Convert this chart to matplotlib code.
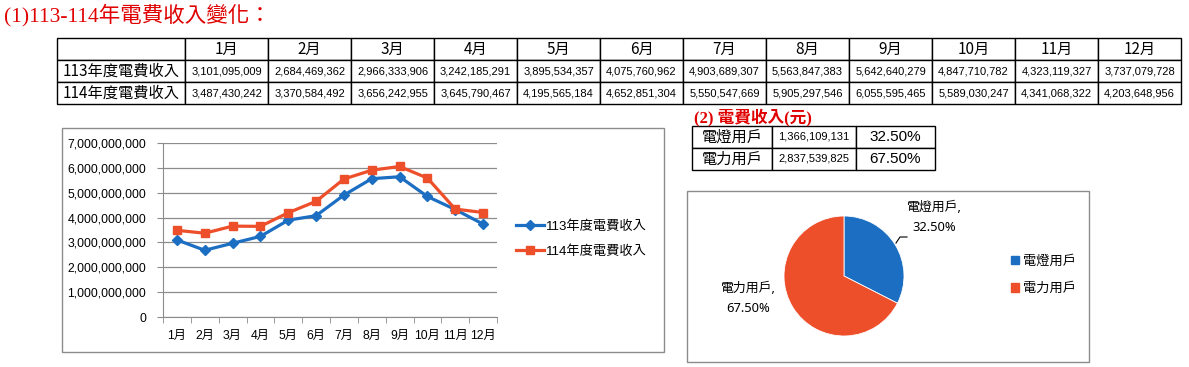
import matplotlib.pyplot as plt
from matplotlib.patches import Rectangle, Patch
from matplotlib.lines import Line2D
from matplotlib.ticker import FuncFormatter, MultipleLocator

months = ["1月", "2月", "3月", "4月", "5月", "6月",
          "7月", "8月", "9月", "10月", "11月", "12月"]
rev_113 = [3101095009, 2684469362, 2966333906, 3242185291, 3895534357, 4075760962,
           4903689307, 5563847383, 5642640279, 4847710782, 4323119327, 3737079728]
rev_114 = [3487430242, 3370584492, 3656242955, 3645790467, 4195565184, 4652851304,
           5550547669, 5905297546, 6055595465, 5589030247, 4341068322, 4203648956]
series_names = ["113年度電費收入", "114年度電費收入"]

user_types = ["電燈用戶", "電力用戶"]
user_revenue = [1366109131, 2837539825]
user_share = [32.50, 67.50]

BLUE = "#1B6EC2"
ORANGE = "#EE4F2B"
RED = "#E00000"
CJK = "Noto Sans CJK TC"

W, H = 1189, 367


def fx(px):
    return px / W


def fy(py):
    return 1 - py / H


plt.rcParams["font.family"] = ["Liberation Sans", CJK]

fig = plt.figure(figsize=(W / 100, H / 100), dpi=100)

# titles
fig.text(fx(4), fy(15), "(1)113-114年電費收入變化：", color=RED, fontsize=15.5,
         family=["Liberation Serif", CJK], va="center", ha="left")
fig.text(fx(694), fy(117), "(2) 電費收入(元)", color=RED, fontsize=12,
         fontweight="bold", family=["Liberation Serif", CJK], va="center", ha="left")

# ---- top table ----
tab_ax = fig.add_axes([fx(57), fy(104), fx(1181) - fx(57), fy(38) - fy(104)])
tab_ax.axis("off")
rows = [[""] + months,
        [series_names[0]] + [f"{v:,}" for v in rev_113],
        [series_names[1]] + [f"{v:,}" for v in rev_114]]
widths = [128] + [83] * 12
tot = sum(widths)
tbl = tab_ax.table(cellText=rows, bbox=[0, 0, 1, 1], cellLoc="center",
                   colWidths=[w / tot for w in widths])
tbl.auto_set_font_size(False)
for (r, c), cell in tbl.get_celld().items():
    cell.set_linewidth(1.0)
    cell.set_edgecolor("black")
    if r == 0:
        cell.get_text().set_fontsize(11)
        cell.get_text().set_family(CJK)
    elif c == 0:
        cell._loc = "left"
        cell.PAD = 0.005
        cell.get_text().set_fontsize(11)
        cell.get_text().set_family(CJK)
    else:
        cell.get_text().set_fontsize(8)

# ---- small table ----
st_ax = fig.add_axes([fx(692), fy(170), fx(935) - fx(692), fy(126) - fy(170)])
st_ax.axis("off")
srows = [[user_types[i], f"{user_revenue[i]:,}", f"{user_share[i]:.2f}%"] for i in range(2)]
sw = [80, 84, 79]
stbl = st_ax.table(cellText=srows, bbox=[0, 0, 1, 1], cellLoc="center",
                   colWidths=[w / sum(sw) for w in sw])
stbl.auto_set_font_size(False)
for (r, c), cell in stbl.get_celld().items():
    cell.set_linewidth(1.0)
    cell.set_edgecolor("black")
    t = cell.get_text()
    if c == 0:
        cell._loc = "left"
        cell.PAD = 0.02
        t.set_fontsize(11)
        t.set_family(CJK)
    elif c == 1:
        t.set_fontsize(8)
    else:
        cell._loc = "right"
        cell.PAD = 0.03
        t.set_fontsize(11)

# ---- line chart ----
fig.add_artist(Rectangle((fx(62), fy(352)), fx(664) - fx(62), fy(128) - fy(352),
                         transform=fig.transFigure, fill=False, edgecolor="#8c8c8c", lw=1))
ax = fig.add_axes([fx(163), fy(317), fx(497) - fx(163), fy(143) - fy(317)])
x = list(range(len(months)))
ax.plot(x, rev_113, color=BLUE, lw=2.3, marker="D", markersize=5.5, label=series_names[0])
ax.plot(x, rev_114, color=ORANGE, lw=2.3, marker="s", markersize=6, label=series_names[1])
ax.set_xlim(-0.5, len(months) - 0.5)
ax.set_ylim(0, 7e9)
ax.yaxis.set_major_locator(MultipleLocator(1e9))
ax.yaxis.set_major_formatter(FuncFormatter(lambda v, p: f"{v:,.0f}"))
ax.grid(axis="y", color="#8c8c8c", lw=0.9)
ax.set_axisbelow(True)
for s in ["top", "right"]:
    ax.spines[s].set_visible(False)
for s in ["left", "bottom"]:
    ax.spines[s].set_color("#8c8c8c")
ax.set_xticks(x)
ax.set_xticklabels(months)
ax.set_xticks([i - 0.5 for i in range(len(months) + 1)], minor=True)
ax.tick_params(axis="x", which="major", length=0, labelsize=8.8, pad=9)
ax.tick_params(axis="x", which="minor", length=4, color="#8c8c8c", direction="out")
ax.tick_params(axis="y", length=4, color="#8c8c8c", labelsize=8.8, pad=8)
fig.legend(loc="center left", bbox_to_anchor=(fx(516), fy(239)), frameon=False,
           fontsize=9.5, handlelength=2.1, handletextpad=0.15, labelspacing=0.95,
           borderpad=0, borderaxespad=0)

# ---- pie chart ----
fig.add_artist(Rectangle((fx(687), fy(362)), fx(1089) - fx(687), fy(191) - fy(362),
                         transform=fig.transFigure, fill=False, edgecolor="#8c8c8c", lw=1))
pax = fig.add_axes([fx(784), fy(336), 120 / W, 120 / H])
wedges, _ = pax.pie(user_revenue, colors=[BLUE, ORANGE], startangle=90,
                    counterclock=False, radius=1,
                    wedgeprops=dict(edgecolor="white", linewidth=0.6))
pax.set_xlim(-1, 1)
pax.set_ylim(-1, 1)
fig.text(fx(934), fy(217), f"{user_types[0]},\n{user_share[0]:.2f}%", ha="center",
         va="center", fontsize=9.3, linespacing=1.7, family=["Noto Sans", CJK])
fig.text(fx(748), fy(298), f"{user_types[1]},\n{user_share[1]:.2f}%", ha="center",
         va="center", fontsize=9.3, linespacing=1.7, family=["Noto Sans", CJK])
fig.add_artist(Line2D([fx(896), fx(900), fx(907)], [fy(243), fy(237), fy(237)],
                      transform=fig.transFigure, color="black", lw=0.8))
fig.legend(handles=[Patch(color=BLUE, label=user_types[0]),
                    Patch(color=ORANGE, label=user_types[1])],
           loc="center left", bbox_to_anchor=(fx(1011), fy(275)), frameon=False,
           handlelength=0.6, handleheight=0.6, handletextpad=0.3,
           labelspacing=1.1, borderpad=0, borderaxespad=0, prop={"family": CJK, "size": 9.5})

fig.savefig("out.png", dpi=100)
